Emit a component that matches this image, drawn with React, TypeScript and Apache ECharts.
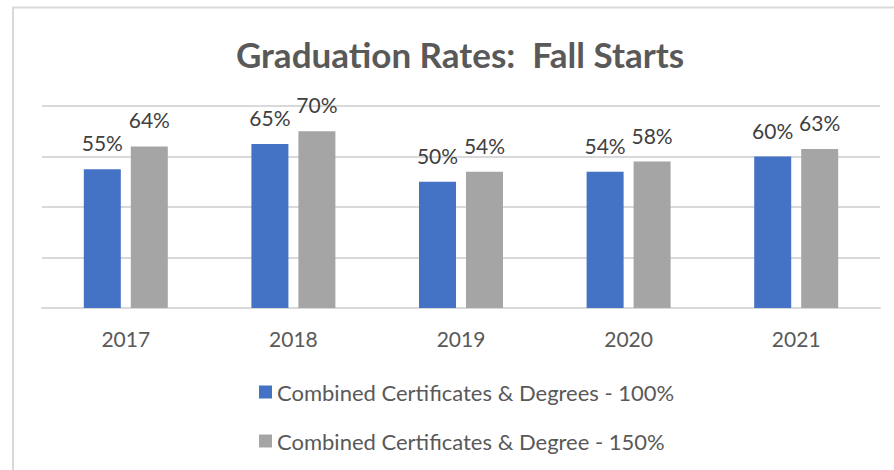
import React, { useEffect, useRef } from "react";
import * as echarts from "echarts";

const categories = ["2017", "2018", "2019", "2020", "2021"];
const rate100 = [55, 65, 50, 54, 60];
const rate150 = [64, 70, 54, 58, 63];
const seriesNames = [
  "Combined Certificates & Degrees - 100%",
  "Combined Certificates & Degree - 150%",
];
const titleText = "Graduation Rates:  Fall Starts";

export default function App() {
  const ref = useRef<HTMLDivElement>(null);
  useEffect(() => {
    if (!ref.current) return;
    const chart = echarts.init(ref.current, undefined, { renderer: "svg" });
    const font = "Lato, 'Open Sans', sans-serif";
    const label = {
      show: true,
      position: "top",
      distance: 16,
      formatter: "{c}%",
      fontSize: 21,
      color: "#404040",
      fontFamily: font,
    };
    chart.setOption({
      animation: false,
      backgroundColor: "#ffffff",
      title: {
        text: titleText,
        left: 455,
        textAlign: "center",
        top: 31,
        textStyle: {
          fontSize: 35,
          fontWeight: "bold",
          color: "#595959",
          fontFamily: font,
        },
      },
      graphic: [
        {
          type: "polyline",
          shape: { points: [[13, 480], [13, 7.5], [900, 7.5]] },
          style: { stroke: "#d9d9d9", lineWidth: 2, fill: null },
          silent: true,
        },
      ],
      legend: {
        orient: "vertical",
        left: 254,
        top: 376,
        itemWidth: 13,
        itemHeight: 13,
        itemGap: 27,
        icon: "rect",
        textStyle: { fontSize: 22, color: "#595959", fontFamily: font },
        data: seriesNames,
      },
      grid: { left: 42, right: 14, top: 106, bottom: 162, containLabel: false },
      xAxis: {
        type: "category",
        data: categories,
        axisLine: { show: true, lineStyle: { color: "#d9d9d9", width: 2 } },
        axisTick: { show: false },
        axisLabel: { fontSize: 21, color: "#595959", fontFamily: font, margin: 20 },
      },
      yAxis: {
        type: "value",
        min: 0,
        max: 80,
        interval: 20,
        axisLabel: { show: false },
        axisLine: { show: false },
        axisTick: { show: false },
        splitLine: { lineStyle: { color: "#d9d9d9", width: 2 } },
      },
      series: [
        {
          name: seriesNames[0],
          type: "bar",
          data: rate100,
          barWidth: 37,
          barGap: "27%",
          itemStyle: { color: "#4472C4" },
          label,
        },
        {
          name: seriesNames[1],
          type: "bar",
          data: rate150,
          barWidth: 37,
          barGap: "27%",
          itemStyle: { color: "#A5A5A5" },
          label,
        },
      ],
    });
    return () => chart.dispose();
  }, []);
  return (
    <div
      ref={ref}
      style={{ position: "fixed", left: 0, top: 0, width: 894, height: 470 }}
    />
  );
}
